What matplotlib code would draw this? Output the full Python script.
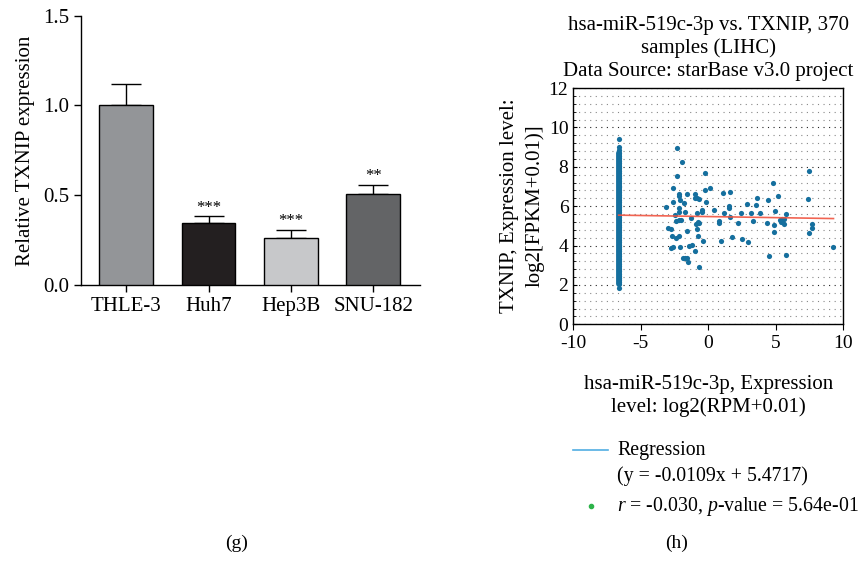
import matplotlib
matplotlib.use("Agg")
import matplotlib.pyplot as plt
from matplotlib.ticker import MultipleLocator
from matplotlib.lines import Line2D

plt.rcParams['font.family'] = ['Liberation Serif', 'DejaVu Serif']
plt.rcParams['mathtext.fontset'] = 'custom'
plt.rcParams['mathtext.rm'] = 'Liberation Serif'
plt.rcParams['mathtext.it'] = 'Liberation Serif:italic'
plt.rcParams['axes.unicode_minus'] = False

# ---------------- data: panel (g) ----------------
cell_lines = ["THLE-3", "Huh7", "Hep3B", "SNU-182"]
rel_expr = [1.00, 0.347, 0.262, 0.509]
rel_err = [0.118, 0.035, 0.046, 0.048]
signif = ["", "***", "***", "**"]
bar_colors = ["#939598", "#231f20", "#c7c8ca", "#636466"]

# ---------------- data: panel (h) ----------------
col_x = -6.64
col_y = [9.40, 9.00, 8.85, 8.70, 8.55, 8.45, 8.30, 8.20, 8.05, 7.95, 7.80, 7.70,
         7.55, 7.45, 7.30, 7.20, 7.05, 6.95, 6.80, 6.70, 6.55, 6.45, 6.30, 6.20,
         6.05, 5.95, 5.80, 5.70, 5.55, 5.45, 5.30, 5.20, 5.05, 4.95, 4.80, 4.70,
         4.55, 4.45, 4.30, 4.20, 4.05, 3.95, 3.80, 3.70, 3.55, 3.45, 3.30, 3.20,
         3.05, 2.95, 2.80, 2.70, 2.55, 2.45, 2.35, 2.25, 2.15, 2.05, 1.82]
sc_x = [-2.35, -1.98, -2.30, -0.25, 0.12, -0.25, -3.16, -2.60, -2.60, -2.15, -2.15,
        -2.07, -2.20, -2.20, -1.80, -1.73, -1.60, -1.00, -1.00, -0.85, -0.70, -0.86,
        -0.50, -0.48, -0.20, -2.96, -2.79, -2.72, -2.40, -2.20, -2.77, -2.64, -2.10,
        -2.15, -2.05, -2.40, -1.90, -1.75, -1.60, -1.48, -1.40, -1.20, -1.00, -0.67,
        -1.60, -0.86, -0.74, -0.70, -0.74, -0.42, 0.44, 0.77, 0.80, 0.94, 1.06, 1.63,
        1.16, 1.50, 1.55, 1.60, 1.78, 2.17, 2.40, 2.47, 2.84, 2.91, 3.16, 3.33, 3.58,
        3.53, 3.83, 4.32, 4.44, 4.52, 4.77, 4.86, 4.86, 4.94, 5.14, 5.30, 5.38, 5.43,
        5.60, 5.63, 5.75, 5.75, 7.36, 7.48, 7.48, 7.70, 7.70, -2.50, -1.30, -0.95]
sc_y = [8.95, 8.24, 7.54, 7.68, 6.92, 6.83, 5.95, 6.90, 6.19, 6.60, 6.50, 6.32, 5.90,
        5.70, 6.15, 5.68, 6.60, 6.60, 6.40, 6.40, 6.38, 5.64, 5.70, 5.82, 6.20, 4.88,
        4.85, 4.46, 4.40, 4.49, 3.86, 3.95, 3.92, 5.30, 5.28, 5.25, 3.38, 3.38, 3.36,
        3.15, 3.97, 4.05, 3.70, 2.93, 4.76, 4.85, 5.20, 5.12, 4.50, 4.25, 5.80, 5.25,
        5.15, 4.25, 6.66, 6.71, 5.64, 5.90, 6.00, 5.47, 4.42, 5.14, 5.64, 4.34, 6.12,
        4.17, 5.64, 5.25, 6.41, 6.07, 5.64, 5.14, 6.29, 3.49, 7.20, 5.02, 4.68, 5.73,
        6.53, 5.30, 5.22, 5.35, 5.35, 5.08, 3.53, 5.60, 6.36, 7.81, 4.63, 5.10, 4.90,
        5.55, 5.40, 5.10]
extra_x = [9.26]
extra_y = [3.93]
slope = -0.0109
intercept = 5.4717
reg_x = [-6.64, 9.26]

fig = plt.figure(figsize=(8.66, 5.61), dpi=100)

# ---------------- panel (g) ----------------
axg = fig.add_axes([0.0935, 0.492, 0.3915, 0.480])
pos = list(range(len(cell_lines)))
axg.bar(pos, rel_expr, width=0.65, color=bar_colors, edgecolor="black", linewidth=1.0,
        zorder=3)
axg.errorbar(pos, rel_expr, yerr=[[0] * len(rel_err), rel_err], fmt="none",
             ecolor="black", elinewidth=1.0, capsize=11, capthick=1.0, zorder=2)
for p, v, e, s in zip(pos, rel_expr, rel_err, signif):
    if s:
        axg.text(p, v + e + 0.005, s, ha="center", va="bottom", fontsize=12)
axg.set_xlim(-0.55, 3.57)
axg.set_ylim(0, 1.5)
axg.set_yticks([0.0, 0.5, 1.0, 1.5])
axg.set_yticklabels(["0.0", "0.5", "1.0", "1.5"])
axg.set_xticks(pos)
axg.set_xticklabels(cell_lines)
axg.set_ylabel("Relative TXNIP expression", fontsize=15, labelpad=6)
axg.tick_params(labelsize=15, length=5, width=1.0, direction="out")
for s in ["top", "right"]:
    axg.spines[s].set_visible(False)
for s in ["left", "bottom"]:
    axg.spines[s].set_linewidth(1.0)

# ---------------- panel (h) ----------------
axh = fig.add_axes([0.662, 0.422, 0.312, 0.421])
pt_color = "#156f9e"
axh.scatter([col_x] * len(col_y), col_y, s=14, color=pt_color, linewidths=0, zorder=3)
axh.plot([col_x, col_x], [min(col_y[:-1]), max(col_y[3:])], color=pt_color,
         linewidth=4.2, solid_capstyle="round", zorder=3)
axh.scatter(sc_x, sc_y, s=14, color=pt_color, linewidths=0, zorder=3)
axh.scatter(extra_x, extra_y, s=14, color=pt_color, linewidths=0, zorder=3)
reg_y = [slope * x + intercept for x in reg_x]
axh.plot(reg_x, reg_y, color="#f0533f", linewidth=1.2, alpha=0.9, zorder=4)
axh.set_xlim(-10, 10)
axh.set_ylim(0, 12)
axh.set_xticks([-10, -5, 0, 5, 10])
axh.set_yticks([0, 2, 4, 6, 8, 10, 12])
axh.yaxis.set_minor_locator(MultipleLocator(0.4))
axh.grid(which="major", axis="y", color="#222222", linestyle=(0, (1, 4)), linewidth=0.8)
axh.grid(which="minor", axis="y", color="#888888", linestyle=(0, (1, 4)), linewidth=0.8)
axh.set_axisbelow(True)
axh.tick_params(axis="x", labelsize=14, length=4, direction="out")
axh.tick_params(axis="y", which="major", labelsize=14, length=3, direction="in")
axh.tick_params(axis="y", which="minor", length=2, direction="in")
for s in axh.spines.values():
    s.set_linewidth(1.0)
axh.set_title("hsa-miR-519c-3p vs. TXNIP, 370\nsamples (LIHC)\nData Source: starBase v3.0 project",
              fontsize=15, linespacing=1.25, pad=9)
axh.set_ylabel("TXNIP, Expression level:\nlog2[FPKM+0.01)]", fontsize=15,
               linespacing=1.4, labelpad=3)
axh.set_xlabel("hsa-miR-519c-3p, Expression\nlevel: log2(RPM+0.01)", fontsize=15,
               linespacing=1.2, labelpad=17)

# legend drawn as figure artists
fig.add_artist(Line2D([573 / 866, 608 / 866], [1 - 450 / 561, 1 - 450 / 561],
                      color="#52aee3", linewidth=1.2))
fig.text(617 / 866, 1 - 450 / 561, "Regression", fontsize=14.3, va="center")
fig.text(617 / 866, 1 - 476 / 561, "(y = -0.0109x + 5.4717)", fontsize=14.3, va="center")
fig.add_artist(Line2D([591 / 866], [1 - 506 / 561], marker="o", markersize=3,
                      color="#2db34a", linestyle="none"))
fig.text(617 / 866, 1 - 506 / 561, r"$r$ = -0.030, $p$-value = 5.64e-01",
         fontsize=14.3, va="center")

fig.text(237 / 866, 1 - 543 / 561, "(g)", fontsize=14, ha="center", va="center")
fig.text(677 / 866, 1 - 543 / 561, "(h)", fontsize=14, ha="center", va="center")

fig.savefig("out.png", dpi=100)
